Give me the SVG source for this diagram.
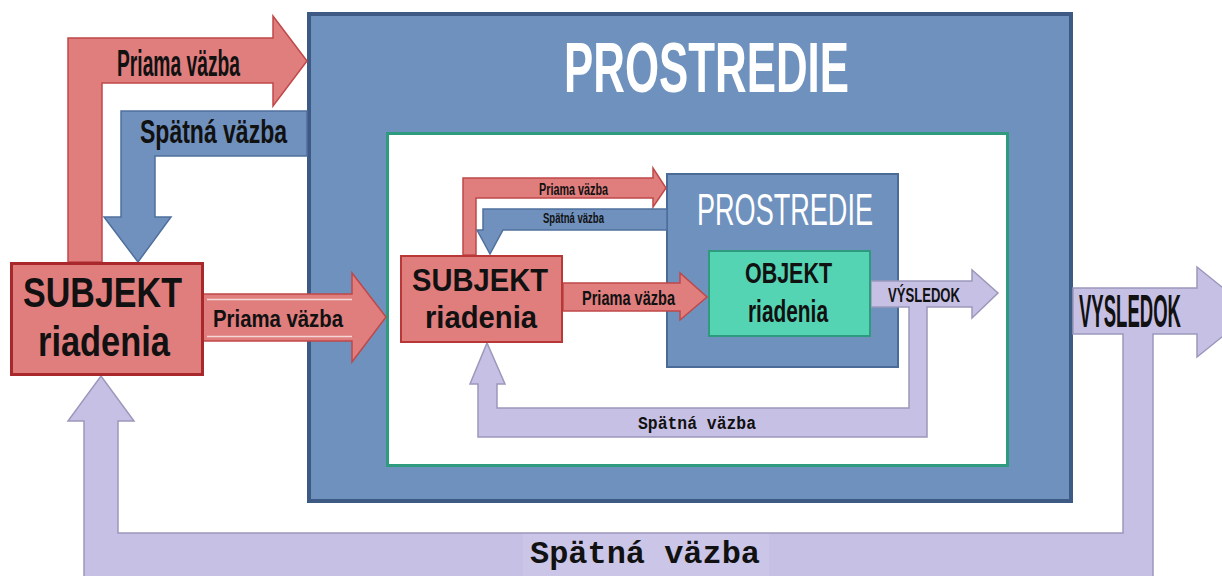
<svg xmlns="http://www.w3.org/2000/svg" width="1222" height="576" viewBox="0 0 1222 576">
<style>
.red{fill:#e07e7e;stroke:#c04848;stroke-width:1.5}
.blue{fill:#7091be;stroke:#4f6f9c;stroke-width:1.5}
.lav{fill:#c7c0e5;stroke:#9a98bb;stroke-width:1.5}
.nar{font-family:"Liberation Sans Narrow","Liberation Sans",Arial,sans-serif;font-weight:bold;fill:#111}
.sans{font-family:"Liberation Sans",Arial,sans-serif;font-weight:bold;fill:#111}
.mono{font-family:"Liberation Mono","Courier New",monospace;font-weight:bold;fill:#111}
</style>
<rect width="1222" height="576" fill="#fff"/>
<g id="prostredie-outer">
<rect x="309" y="14" width="762" height="487" fill="#6f91be" stroke="#3c5a84" stroke-width="4"/>
<text x="564" y="92" font-size="70" class="nar" style="fill:#fff" textLength="285" lengthAdjust="spacingAndGlyphs">PROSTREDIE</text>
</g>
<g id="inner-area">
<rect x="387.5" y="133.5" width="620" height="332" fill="#fff" stroke="#2e9a7e" stroke-width="3"/>
</g>
<g id="prostredie-inner">
<rect x="667" y="174" width="231" height="193" fill="#6f91be" stroke="#4a6a98" stroke-width="2"/>
<text x="697" y="225" font-size="45" font-family="Liberation Sans Narrow, Liberation Sans, Arial, sans-serif" fill="#fff" textLength="176" lengthAdjust="spacingAndGlyphs">PROSTREDIE</text>
</g>
<g id="connectors">
<polygon class="red" points="68,262 68,38 273,38 273,16 307,61 273,106 273,83 102,83 102,262"/>
<text x="117" y="76" font-size="36" class="nar" textLength="123" lengthAdjust="spacingAndGlyphs">Priama väzba</text>
<polygon class="blue" points="307,111 121,111 121,217 104,217 138,262 171,217 155,217 155,156 307,156"/>
<text x="140" y="143" font-size="34" class="nar" textLength="147" lengthAdjust="spacingAndGlyphs">Spätná väzba</text>
<polygon class="red" points="203,294 352,294 352,273 386,317 352,362 352,341 203,341"/>
<path d="M207 299.5H352M207 336.5H352" stroke="#f4d6d6" stroke-width="1.5"/>
<text x="213" y="327" font-size="24" class="nar" textLength="130" lengthAdjust="spacingAndGlyphs">Priama väzba</text>
<polygon class="lav" points="1073,288 1197,288 1197,267 1253,312 1197,357 1197,334 1153,334 1153,590 84,590 84,421 68,421 101,376 134,421 118,421 118,533 1123,533 1123,334 1073,334"/>
<rect x="523" y="534" width="246" height="44" fill="#cbc5e8"/>
<text transform="translate(1079,327) scale(1,2)" x="0" y="0" font-size="23" class="nar" textLength="102" lengthAdjust="spacingAndGlyphs">VYSLEDOK</text>
<text x="530" y="563" font-size="32" class="mono" textLength="230" lengthAdjust="spacingAndGlyphs">Spätná väzba</text>
<polygon class="red" points="463,255 463,178 653,178 653,168 666,188 653,207 653,198 476,198 476,255"/>
<text x="539" y="195" font-size="16" class="nar" textLength="69" lengthAdjust="spacingAndGlyphs">Priama väzba</text>
<polygon class="blue" points="667,209 483,209 483,230 477,230 490,254 503,230 667,230"/>
<text x="543" y="223" font-size="14" class="nar" textLength="61" lengthAdjust="spacingAndGlyphs">Spätná väzba</text>
<polygon class="red" points="563,283 680,283 680,273 707,297 680,320 680,311 563,311"/>
<text x="582" y="305" font-size="20" class="nar" textLength="93" lengthAdjust="spacingAndGlyphs">Priama väzba</text>
<polygon class="lav" points="871,281 972,281 972,270 998,293 972,318 972,307 927,307 927,437 478,437 478,384 470,384 487,343 505,384 497,384 497,408 909,408 909,307 871,307"/>
<text x="888" y="302" font-size="20" class="nar" textLength="72" lengthAdjust="spacingAndGlyphs">VÝSLEDOK</text>
<text x="638" y="429" font-size="18" class="mono" textLength="118" lengthAdjust="spacingAndGlyphs">Spätná väzba</text>
</g>
<g id="subjekt-outer">
<rect x="11.5" y="263.5" width="191" height="111" fill="#e07e7e" stroke="#a8282c" stroke-width="3"/>
<text x="23" y="307" font-size="42" class="sans" textLength="159" lengthAdjust="spacingAndGlyphs">SUBJEKT</text>
<text x="38" y="356" font-size="42" class="sans" textLength="132" lengthAdjust="spacingAndGlyphs">riadenia</text>
</g>
<g id="subjekt-inner">
<rect x="401" y="256" width="161" height="86" fill="#e07e7e" stroke="#b83838" stroke-width="2"/>
<text x="412" y="291" font-size="32" class="sans" textLength="136" lengthAdjust="spacingAndGlyphs">SUBJEKT</text>
<text x="425" y="328" font-size="32" class="sans" textLength="112" lengthAdjust="spacingAndGlyphs">riadenia</text>
</g>
<g id="objekt">
<rect x="709" y="251" width="161" height="85" fill="#55d4b4" stroke="#2e9a7e" stroke-width="2"/>
<text x="745" y="283" font-size="29" class="nar" textLength="87" lengthAdjust="spacingAndGlyphs">OBJEKT</text>
<text x="748" y="322" font-size="32" class="nar" textLength="80" lengthAdjust="spacingAndGlyphs">riadenia</text>
</g>
</svg>
